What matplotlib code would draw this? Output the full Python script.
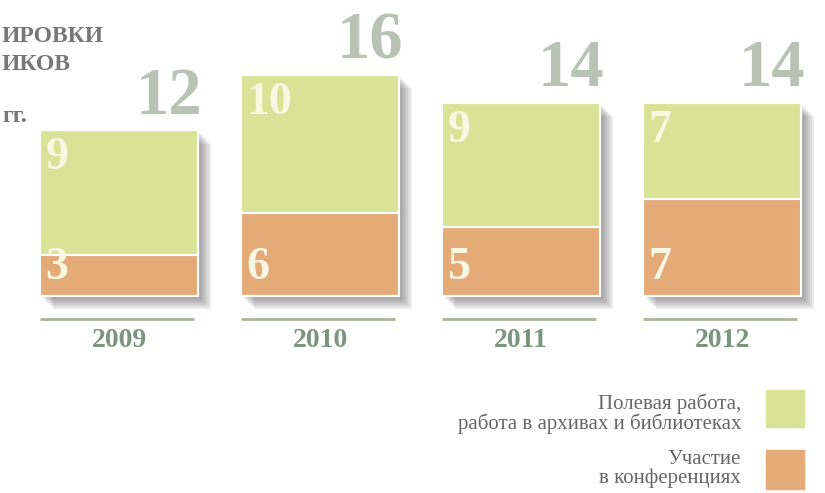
import matplotlib
matplotlib.use('Agg')
import matplotlib.pyplot as plt
import matplotlib.patheffects as pe
from matplotlib.patches import Rectangle

# data
years = ['2009', '2010', '2011', '2012']
conferences = [3, 6, 5, 7]          # Участие в конференциях
fieldwork = [9, 10, 9, 7]           # Полевая работа, работа в архивах и библиотеках
totals = [c + f for c, f in zip(conferences, fieldwork)]

green = '#D9E398'
orange = '#E4AB78'
inner_col = '#F8F7E2'
total_col = '#B8C3B5'
year_col = '#7B957F'

plt.rcParams['font.family'] = ['Liberation Serif', 'DejaVu Serif']

fig = plt.figure(figsize=(8.25, 4.93), dpi=100)
ax = fig.add_axes([0, 0, 1, 1])
ax.set_xlim(-0.592, 3.512)
ax.set_ylim(-14.28, 21.45)
ax.axis('off')

x = range(len(years))
w = 0.786

# shadow under the whole column (fake blur with stacked soft shadows)
shadow = [pe.SimplePatchShadow(offset=(o, -o), shadow_rgbFace='#4a4a4a', alpha=0.1)
          for o in (2, 3.5, 5, 6.5, 8, 9.5)]
back = ax.bar(x, totals, width=w, color='white', edgecolor='white', linewidth=1.5)
for b in back:
    b.set_path_effects(shadow + [pe.Normal()])

ax.bar(x, conferences, width=w, color=orange, edgecolor='white', linewidth=1.5)
ax.bar(x, fieldwork, width=w, bottom=conferences, color=green, edgecolor='white', linewidth=1.5)

for i in x:
    left = i - w / 2
    right = i + w / 2
    # inner numbers
    ax.annotate(str(conferences[i]), (left, 0), xytext=(4, 5), textcoords='offset points',
                ha='left', va='bottom', fontsize=33, fontweight='bold', color=inner_col)
    ax.annotate(str(fieldwork[i]), (left, totals[i]), xytext=(4, -5), textcoords='offset points',
                ha='left', va='top', fontsize=33, fontweight='bold', color=inner_col)
    # totals
    ax.annotate(str(totals[i]), (right, totals[i]), xytext=(3, 2), textcoords='offset points',
                ha='right', va='bottom', fontsize=48, fontweight='bold', color=total_col)
    # baseline and year
    ax.plot([left, right - 0.02], [-1.67, -1.67], color='#A9B597', lw=2, solid_capstyle='butt')
    ax.text(i, -3.2, years[i], ha='center', va='center', fontsize=20,
            fontweight='bold', color=year_col)

# title fragment (cut in the source picture)
fig.text(2 / 825, 1 - 37 / 493, 'ИРОВКИ', ha='left', va='center', fontsize=17,
         fontweight='bold', color='#777777')
fig.text(2 / 825, 1 - 64 / 493, 'ИКОВ', ha='left', va='center', fontsize=17,
         fontweight='bold', color='#777777')
fig.text(2 / 825, 1 - 117 / 493, 'гг.', ha='left', va='center', fontsize=17,
         fontweight='bold', color='#777777')

# legend
fig.patches.append(Rectangle((766 / 825, 1 - 427 / 493), 38 / 825, 37 / 493,
                             transform=fig.transFigure, color=green))
fig.patches.append(Rectangle((766 / 825, 1 - 489 / 493), 38 / 825, 39 / 493,
                             transform=fig.transFigure, color=orange))
fig.text(741 / 825, 1 - 414 / 493, 'Полевая работа,\nработа в архивах и библиотеках',
         ha='right', va='center', multialignment='right', fontsize=15,
         color='#666666', linespacing=1.0)
fig.text(741 / 825, 1 - 469 / 493, 'Участие\nв конференциях',
         ha='right', va='center', multialignment='right', fontsize=15,
         color='#666666', linespacing=1.0)

plt.savefig('out.png', dpi=100)
